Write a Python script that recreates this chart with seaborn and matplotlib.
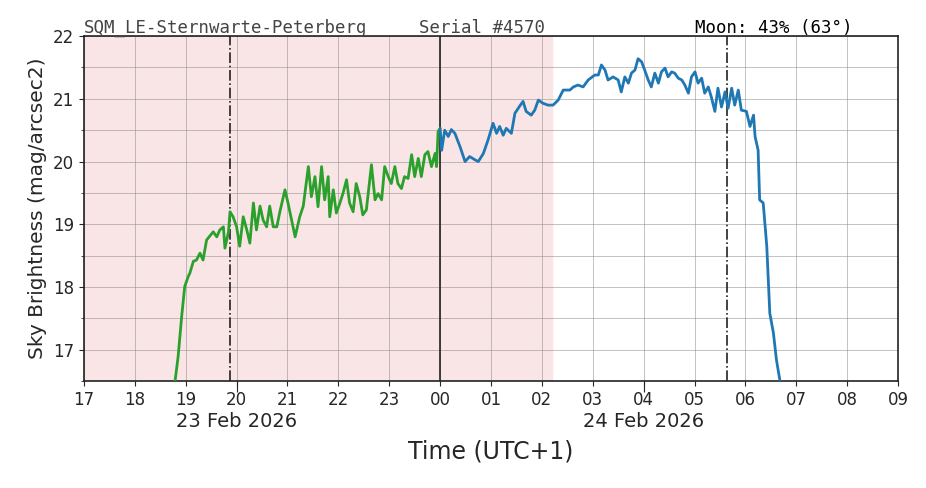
import matplotlib
matplotlib.use('Agg')
import matplotlib.pyplot as plt
import numpy as np
import pandas as pd
import seaborn as sns

# 数据：小时（从 23 Feb 00:00 起算）和天空亮度
green_hours = [18.79, 18.85, 18.92, 18.98, 19.05, 19.08, 19.15, 19.21, 19.28, 19.34, 19.41, 19.54,
               19.61, 19.67, 19.74, 19.77, 19.84, 19.87, 19.93, 20.0, 20.06, 20.13, 20.20, 20.26,
               20.33, 20.39, 20.46, 20.52, 20.59, 20.65, 20.72, 20.79, 20.85, 20.95, 21.01, 21.08,
               21.15, 21.24, 21.31, 21.41, 21.47, 21.54, 21.60, 21.67, 21.73, 21.80, 21.83, 21.90,
               21.96, 22.03, 22.09, 22.16, 22.22, 22.29, 22.35, 22.42, 22.48, 22.55, 22.65, 22.72,
               22.78, 22.85, 22.91, 22.98, 23.04, 23.11, 23.17, 23.24, 23.30, 23.37, 23.44, 23.50,
               23.57, 23.63, 23.70, 23.76, 23.83, 23.90, 23.93, 23.96, 24.0]
green_mag = [16.50, 16.89, 17.53, 18.01, 18.17, 18.22, 18.41, 18.43, 18.54, 18.43, 18.75, 18.88,
             18.80, 18.91, 18.96, 18.62, 18.88, 19.20, 19.12, 18.96, 18.65, 19.12, 18.91, 18.70,
             19.34, 18.91, 19.29, 19.07, 18.96, 19.29, 18.96, 18.96, 19.20, 19.55, 19.34, 19.07,
             18.80, 19.12, 19.29, 19.92, 19.44, 19.76, 19.28, 19.92, 19.39, 19.76, 19.12, 19.55,
             19.18, 19.34, 19.49, 19.71, 19.34, 19.20, 19.65, 19.44, 19.15, 19.23, 19.95, 19.39,
             19.49, 19.39, 19.92, 19.76, 19.65, 19.92, 19.65, 19.57, 19.76, 19.73, 20.11, 19.76,
             20.05, 19.76, 20.11, 20.16, 19.92, 20.13, 19.92, 20.48, 20.53]

blue_hours = [24.0, 24.03, 24.09, 24.16, 24.22, 24.29, 24.39, 24.49, 24.58, 24.68, 24.75, 24.85,
              24.94, 25.04, 25.11, 25.17, 25.24, 25.30, 25.40, 25.47, 25.56, 25.63, 25.69, 25.79,
              25.86, 25.93, 26.02, 26.12, 26.22, 26.32, 26.42, 26.55, 26.62, 26.71, 26.81, 26.91,
              27.04, 27.11, 27.17, 27.24, 27.30, 27.40, 27.50, 27.56, 27.63, 27.70, 27.76, 27.83,
              27.89, 27.96, 28.02, 28.09, 28.15, 28.22, 28.29, 28.35, 28.42, 28.48, 28.55, 28.61,
              28.68, 28.75, 28.81, 28.88, 28.94, 29.01, 29.07, 29.14, 29.20, 29.27, 29.33, 29.40,
              29.46, 29.53, 29.60, 29.66, 29.73, 29.79, 29.86, 29.92, 30.02, 30.09, 30.16, 30.19,
              30.25, 30.28, 30.35, 30.42, 30.48, 30.55, 30.61, 30.68]
blue_mag = [20.53, 20.18, 20.50, 20.40, 20.51, 20.45, 20.24, 20.00, 20.08, 20.03, 20.00, 20.13,
            20.34, 20.61, 20.45, 20.56, 20.42, 20.53, 20.45, 20.77, 20.88, 20.96, 20.80, 20.74,
            20.82, 20.98, 20.93, 20.90, 20.90, 20.98, 21.14, 21.14, 21.19, 21.22, 21.19, 21.30,
            21.38, 21.38, 21.54, 21.46, 21.30, 21.35, 21.30, 21.11, 21.35, 21.25, 21.41, 21.46,
            21.64, 21.59, 21.46, 21.30, 21.19, 21.41, 21.25, 21.43, 21.49, 21.35, 21.43, 21.41,
            21.33, 21.30, 21.22, 21.09, 21.35, 21.43, 21.25, 21.33, 21.09, 21.19, 21.03, 20.80,
            21.17, 20.87, 21.11, 20.85, 21.17, 20.90, 21.14, 20.82, 20.80, 20.56, 20.74, 20.40,
            20.18, 19.39, 19.34, 18.65, 17.58, 17.27, 16.84, 16.50]

hour_ticks = list(range(17, 34))
hour_labels = ['%02d' % (h % 24) for h in hour_ticks]
date_ticks = [20, 28]
date_labels = ['23 Feb 2026', '24 Feb 2026']
twilight_end = 26.2
moon_lines = [19.87, 29.63]

sns.set_style('ticks')
plt.rcParams['font.family'] = ['DejaVu Sans']

fig = plt.figure(figsize=(9.26, 4.88), dpi=100)
ax = fig.add_axes([0.0907, 0.219, 0.8791, 0.707])

df_g = pd.DataFrame({'t': green_hours, 'mag': green_mag})
df_b = pd.DataFrame({'t': blue_hours, 'mag': blue_mag})
ax.axvspan(17, twilight_end, color='#f9e5e5', zorder=0)
sns.lineplot(data=df_g, x='t', y='mag', color='#2ca02c', lw=2, ax=ax, zorder=3)
sns.lineplot(data=df_b, x='t', y='mag', color='#1f77b4', lw=2, ax=ax, zorder=3)
for m in moon_lines:
    ax.axvline(m, color='#222222', ls='-.', lw=1.2, zorder=2)
ax.axvline(24, color='#222222', lw=1.2, zorder=2)

ax.set_xlim(17, 33)
ax.set_ylim(16.5, 22)
ax.set_xticks(hour_ticks)
ax.set_xticklabels(hour_labels, fontsize=12)
ax.set_yticks([17, 18, 19, 20, 21, 22])
ax.set_yticks(np.arange(16.5, 22, 0.5), minor=True)
ax.tick_params(axis='y', labelsize=12)
ax.grid(True, which='both', color='#888888', lw=0.6, alpha=0.6)
ax.set_xlabel('')
ax.set_ylabel('Sky Brightness (mag/arcsec2)', fontsize=14.5)
for s in ax.spines.values():
    s.set_linewidth(1.2)
    s.set_color('#222222')

sec = ax.secondary_xaxis('bottom')
sec.set_xticks(date_ticks)
sec.set_xticklabels(date_labels, fontsize=14)
sec.tick_params(length=8, pad=14)
sec.spines['bottom'].set_visible(False)
sec.set_xlabel('Time (UTC+1)', fontsize=17, labelpad=6)

fig.text(0.0907, 0.933, 'SQM_LE-Sternwarte-Peterberg', family='DejaVu Sans Mono', fontsize=12.5, color='#444444')
fig.text(0.453, 0.933, 'Serial #4570', family='DejaVu Sans Mono', fontsize=12.5, color='#444444')
fig.text(0.751, 0.933, 'Moon: 43% (63°)', family='DejaVu Sans Mono', fontsize=12.5, color='black')

fig.savefig('out.png', dpi=100)
